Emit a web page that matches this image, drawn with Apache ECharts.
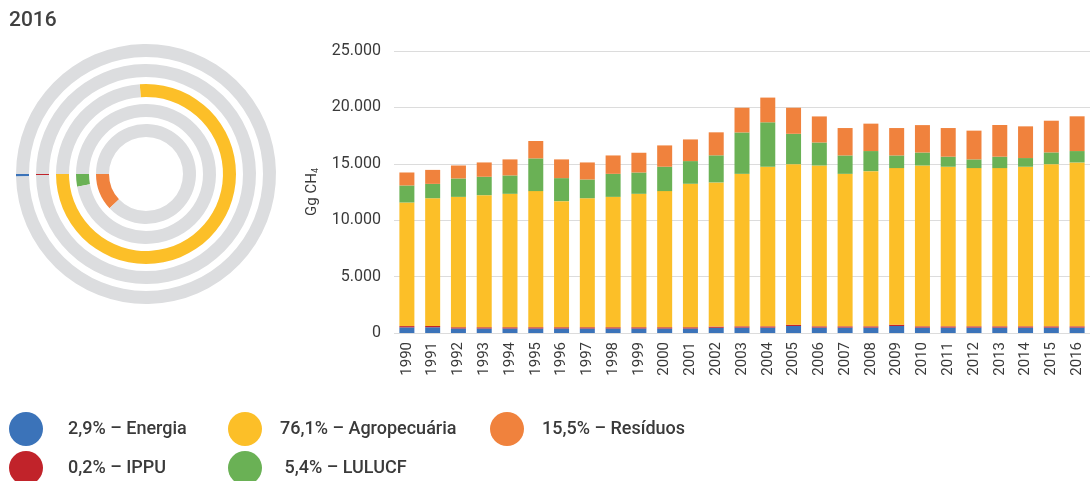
<!DOCTYPE html>
<html>
<head>
<meta charset="utf-8">
<script src="https://cdn.jsdelivr.net/npm/echarts@6/dist/echarts.min.js"></script>
<style>
  html, body { margin: 0; padding: 0; background: #fff; }
  #main { width: 1090px; height: 481px; }
</style>
</head>
<body>
<div id="main"></div>
<script>
// dados (Gg CH4)
var years = ['1990','1991','1992','1993','1994','1995','1996','1997','1998','1999','2000','2001','2002',
             '2003','2004','2005','2006','2007','2008','2009','2010','2011','2012','2013','2014','2015','2016'];
var energia  = [500, 510, 400, 400, 400, 400, 400, 400, 400, 400, 400, 400, 460,
                480, 480, 620, 480, 480, 480, 620, 480, 480, 480, 480, 480, 480, 480];
var ippu     = [110, 110, 110, 110, 110, 110, 110, 110, 110, 110, 110, 110, 110,
                110, 110, 120, 110, 110, 110, 120, 110, 110, 110, 110, 110, 110, 110];
var agro     = [10960, 11330, 11560, 11710, 11830, 12070, 11180, 11440, 11560, 11830, 12070, 12720, 12780,
                13520, 14150, 14230, 14260, 13520, 13760, 13880, 14260, 14150, 14030, 14030, 14150, 14380, 14530];
var lulucf   = [1510, 1270, 1630, 1630, 1630, 2900, 2040, 1660, 2040, 1890, 2160, 2010, 2400,
                3670, 3940, 2690, 2040, 1630, 1780, 1120, 1150, 890, 770, 1010, 770, 1040, 1010];
var residuos = [1150, 1240, 1150, 1270, 1420, 1540, 1660, 1510, 1630, 1750, 1890, 1920, 2040,
                2190, 2190, 2310, 2310, 2430, 2430, 2430, 2430, 2540, 2550, 2810, 2810, 2810, 3080];

var sectors     = ['Energia', 'IPPU', 'Agropecuária', 'LULUCF', 'Resíduos'];
var sectorColor = ['#3b73b9', '#c1232a', '#fcbf28', '#6ab155', '#f0823d'];
var legendShare = ['2,9%', '0,2%', '76,1%', ' 5,4%', '15,5%'];
// arcos dos anéis de 2016 (%), de fora para dentro
var ringShare   = [0.3, 0.15, 76.1, 2.9, 12];

var font = "Roboto, 'Liberation Sans', sans-serif";
var textColor = '#3a3a3a';
var ringGray = '#dcdddf';

var myChart = echarts.init(document.getElementById('main'));

var barData = [energia, ippu, agro, lulucf, residuos];
var series = [];
for (let i = 0; i < sectors.length; i++) {
    series.push({
        name: sectors[i],
        type: 'bar',
        stack: 'total',
        barWidth: 15,
        itemStyle: { color: sectorColor[i] },
        emphasis: { disabled: true },
        data: barData[i]
    });
}

// anéis (rosca) do ano 2016
var ringRadius = [[117, 130], [97, 110], [77, 90], [57, 70], [37, 50]];
for (let i = 0; i < ringShare.length; i++) {
    series.push({
        type: 'pie',
        center: [146, 174],
        radius: ringRadius[i],
        startAngle: 180,
        clockwise: false,
        silent: true,
        label: { show: false },
        labelLine: { show: false },
        emphasis: { disabled: true },
        itemStyle: { borderWidth: 0 },
        data: [
            { value: ringShare[i], itemStyle: { color: sectorColor[i] } },
            { value: 100 - ringShare[i], itemStyle: { color: ringGray } }
        ]
    });
}

function legendBlock(names, left, pad) {
    return {
        orient: 'vertical',
        left: left,
        top: 412,
        height: 120,
        padding: 0,
        itemWidth: 34,
        itemHeight: 34,
        itemGap: 5,
        icon: 'circle',
        selectedMode: false,
        data: names,
        formatter: function (name) {
            return legendShare[sectors.indexOf(name)] + ' – ' + name;
        },
        textStyle: { fontFamily: font, fontSize: 18, fontWeight: 500, color: textColor, padding: [0, 0, 0, pad] }
    };
}

var option = {
    animation: false,
    textStyle: { fontFamily: font },
    title: {
        text: '2016',
        left: 9,
        top: 10,
        padding: 0,
        textStyle: { fontFamily: font, fontSize: 21, fontWeight: 500, color: '#404040' }
    },
    legend: [
        legendBlock(['Energia', 'IPPU'], 9, 20),
        legendBlock(['Agropecuária', 'LULUCF'], 228, 13),
        legendBlock(['Resíduos'], 490, 13)
    ],
    grid: { left: 394, right: -5, top: 51, bottom: 148 },
    xAxis: {
        type: 'category',
        data: years,
        axisLine: { show: false },
        axisTick: { show: false },
        axisLabel: { rotate: 90, margin: 9, fontSize: 15, color: textColor, fontFamily: font }
    },
    yAxis: {
        type: 'value',
        min: 0,
        max: 25000,
        interval: 5000,
        name: 'Gg CH{sub|4}',
        nameLocation: 'middle',
        nameRotate: 90,
        nameGap: 74,
        nameTextStyle: {
            fontFamily: font, fontSize: 15, color: textColor,
            rich: { sub: { fontSize: 9, verticalAlign: 'bottom', padding: [7, 0, 0, 0], color: textColor } }
        },
        axisLine: { show: false },
        axisTick: { show: false },
        splitLine: { lineStyle: { color: '#dcdcdc', width: 1 } },
        axisLabel: {
            margin: 13,
            fontSize: 16,
            color: textColor,
            fontFamily: font,
            padding: [6, 0, 0, 0],
            formatter: function (v) {
                return String(v).replace(/\B(?=(\d{3})+(?!\d))/g, '.');
            }
        }
    },
    series: series
};

myChart.setOption(option);
</script>
</body>
</html>
